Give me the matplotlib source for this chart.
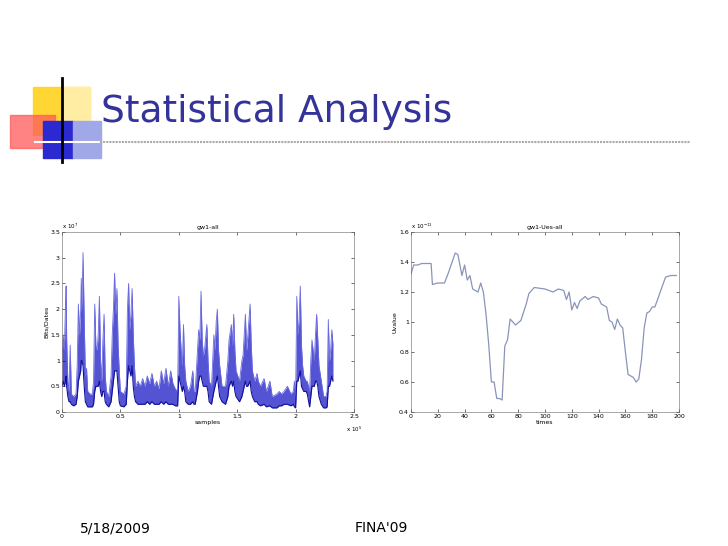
import matplotlib.pyplot as plt
from matplotlib.patches import Rectangle
from matplotlib.lines import Line2D

# left chart: gw1-all, x in 1e5 samples, y in 1e7 bits
gw_x = [0.00, 0.01, 0.02, 0.03, 0.035, 0.04, 0.05, 0.06, 0.07, 0.08, 0.10, 0.12, 0.13, 0.14, 0.15, 0.16,
        0.165, 0.17, 0.18, 0.19, 0.20, 0.21, 0.22, 0.24, 0.26, 0.27, 0.28, 0.29, 0.30, 0.31, 0.32, 0.33,
        0.34, 0.35, 0.36, 0.37, 0.38, 0.40, 0.42, 0.43, 0.44, 0.45, 0.46, 0.47, 0.48, 0.49, 0.50, 0.53,
        0.55, 0.56, 0.57, 0.58, 0.59, 0.60, 0.61, 0.62, 0.63, 0.65, 0.67, 0.69, 0.71, 0.73, 0.75, 0.77,
        0.79, 0.81, 0.83, 0.85, 0.87, 0.89, 0.91, 0.93, 0.95, 0.97, 0.99, 1.00, 1.01, 1.02, 1.03, 1.04,
        1.05, 1.06, 1.08, 1.10, 1.12, 1.13, 1.14, 1.16, 1.17, 1.18, 1.19, 1.20, 1.21, 1.22, 1.24, 1.25,
        1.26, 1.28, 1.30, 1.31, 1.32, 1.33, 1.34, 1.35, 1.37, 1.40, 1.42, 1.43, 1.45, 1.46, 1.47, 1.48,
        1.49, 1.52, 1.54, 1.55, 1.57, 1.58, 1.59, 1.61, 1.62, 1.63, 1.65, 1.67, 1.68, 1.70, 1.73, 1.75,
        1.78, 1.80, 1.84, 1.86, 1.88, 1.90, 1.93, 1.96, 1.98, 1.99, 2.00, 2.01, 2.02, 2.03, 2.04, 2.05,
        2.06, 2.07, 2.09, 2.10, 2.12, 2.13, 2.14, 2.15, 2.16, 2.17, 2.18, 2.19, 2.20, 2.22, 2.24, 2.26,
        2.27, 2.28, 2.29, 2.30, 2.31, 2.32]
gw_hi = [1.0, 1.5, 1.2, 2.1, 2.45, 1.4, 0.6, 0.4, 1.3, 0.35, 0.3, 0.35, 0.9, 2.1, 1.5, 2.0,
         2.6, 2.0, 3.1, 1.8, 0.7, 0.85, 0.4, 0.35, 0.35, 0.6, 2.1, 1.3, 1.2, 1.5, 2.25, 1.0,
         0.6, 1.4, 1.9, 0.7, 0.4, 0.3, 0.7, 1.5, 2.0, 2.7, 1.9, 2.4, 1.3, 0.8, 0.4, 0.35,
         0.5, 2.0, 2.5, 1.6, 1.9, 2.4, 1.5, 0.9, 0.5, 0.6, 0.5, 0.65, 0.5, 0.7, 0.55, 0.75,
         0.5, 0.6, 0.45, 0.8, 0.55, 0.85, 0.5, 0.8, 0.55, 0.45, 0.4, 2.25, 1.6, 1.2, 0.9, 1.7,
         0.9, 0.6, 0.4, 0.5, 0.8, 0.4, 0.4, 1.2, 1.6, 1.4, 2.35, 1.4, 1.1, 1.2, 1.7, 1.0,
         0.6, 0.5, 1.5, 1.2, 1.75, 2.0, 1.2, 0.9, 0.5, 0.5, 1.0, 1.4, 1.7, 1.3, 1.9, 1.2,
         0.8, 0.6, 1.0, 1.1, 1.9, 1.2, 1.45, 2.1, 1.3, 0.8, 0.6, 0.75, 0.6, 0.5, 0.65, 0.4,
         0.6, 0.3, 0.35, 0.4, 0.35, 0.4, 0.5, 0.35, 0.4, 0.6, 0.3, 2.25, 1.5, 1.8, 2.45, 1.3,
         0.9, 0.7, 0.6, 0.6, 0.4, 1.0, 1.4, 1.2, 1.0, 1.5, 1.9, 1.4, 0.9, 0.6, 0.3, 0.3,
         0.4, 1.8, 1.0, 1.2, 1.6, 1.3]
gw_lo = [0.5, 0.6, 0.5, 0.6, 0.7, 0.5, 0.3, 0.2, 0.2, 0.15, 0.12, 0.15, 0.3, 0.6, 0.7, 0.8,
         1.0, 1.0, 0.9, 0.5, 0.2, 0.15, 0.1, 0.1, 0.1, 0.15, 0.4, 0.5, 0.5, 0.5, 0.6, 0.4,
         0.3, 0.4, 0.4, 0.2, 0.15, 0.1, 0.2, 0.4, 0.6, 0.8, 0.8, 0.8, 0.5, 0.2, 0.12, 0.1,
         0.15, 0.6, 0.9, 0.8, 0.7, 0.9, 0.5, 0.3, 0.2, 0.15, 0.15, 0.15, 0.15, 0.2, 0.15, 0.2,
         0.15, 0.15, 0.15, 0.2, 0.15, 0.2, 0.15, 0.15, 0.15, 0.12, 0.12, 0.7, 0.6, 0.5, 0.4, 0.5,
         0.4, 0.2, 0.15, 0.15, 0.2, 0.15, 0.15, 0.4, 0.6, 0.7, 0.7, 0.6, 0.5, 0.5, 0.5, 0.4,
         0.2, 0.15, 0.4, 0.5, 0.6, 0.7, 0.5, 0.3, 0.2, 0.15, 0.3, 0.5, 0.6, 0.5, 0.6, 0.4,
         0.3, 0.2, 0.3, 0.4, 0.6, 0.5, 0.5, 0.6, 0.4, 0.3, 0.2, 0.2, 0.15, 0.12, 0.15, 0.1,
         0.12, 0.08, 0.08, 0.12, 0.12, 0.15, 0.15, 0.12, 0.15, 0.1, 0.08, 0.6, 0.6, 0.7, 0.8, 0.5,
         0.45, 0.4, 0.4, 0.35, 0.1, 0.3, 0.5, 0.5, 0.5, 0.6, 0.6, 0.5, 0.3, 0.15, 0.08, 0.08,
         0.1, 0.5, 0.5, 0.6, 0.7, 0.6]

# right chart: gw1-Ues-all
ues_t = [0, 2, 5, 8, 15, 16, 20, 25, 28, 33, 35, 38, 40, 42, 44, 46, 50, 52, 54, 56, 58, 60, 62, 64,
         66, 68, 70, 72, 74, 78, 82, 86, 88, 92, 100, 106, 110, 114, 116, 118, 120, 122, 124, 126,
         130, 132, 136, 140, 142, 146, 148, 150, 152, 154, 156, 158, 160, 162, 164, 166, 168, 170,
         172, 174, 176, 178, 180, 182, 184, 188, 190, 194, 198]
ues_v = [1.32, 1.38, 1.38, 1.39, 1.39, 1.25, 1.26, 1.26, 1.33, 1.46, 1.45, 1.31, 1.38, 1.28, 1.31, 1.22,
         1.20, 1.26, 1.20, 1.05, 0.85, 0.60, 0.60, 0.49, 0.49, 0.48, 0.84, 0.88, 1.02, 0.98, 1.01, 1.12,
         1.19, 1.23, 1.22, 1.20, 1.22, 1.21, 1.15, 1.20, 1.08, 1.13, 1.09, 1.14, 1.17, 1.15, 1.17, 1.16,
         1.12, 1.10, 1.01, 1.00, 0.95, 1.02, 0.98, 0.96, 0.80, 0.65, 0.64, 0.63, 0.60, 0.62, 0.75, 0.96,
         1.06, 1.07, 1.10, 1.10, 1.15, 1.25, 1.30, 1.31, 1.31]

fig = plt.figure(figsize=(7.28, 5.46), dpi=100)
W, H = 728, 546


def px_axes(x0, y0, x1, y1):
    return fig.add_axes([x0 / W, 1 - y1 / H, (x1 - x0) / W, (y1 - y0) / H])


# slide decoration
deco = fig.add_axes([0, 0, 1, 1])
deco.set_xlim(0, W)
deco.set_ylim(H, 0)
deco.axis('off')
deco.add_patch(Rectangle((33, 87), 57, 48, color='#ffd21e', alpha=0.9))
deco.add_patch(Rectangle((62, 87), 28, 48, color='#fff0b0', alpha=0.9))
deco.add_patch(Rectangle((10, 115), 45, 33, color='#ff5a5a', alpha=0.75))
deco.add_patch(Rectangle((43, 121), 30, 37, color='#2a2ad0'))
deco.add_patch(Rectangle((73, 121), 28, 37, color='#a0a8e8'))
deco.add_line(Line2D([35, 100], [142, 142], color='white', lw=1.5))
deco.add_line(Line2D([100, 690], [142, 142], color='#aaaaaa', lw=1.5, ls=(0, (1, 0.5))))
deco.add_line(Line2D([62, 62], [78, 162], color='black', lw=2))
deco.text(101, 112, 'Statistical Analysis', fontsize=27, color='#333399', va='center',
          family='DejaVu Sans')
deco.text(80, 528, '5/18/2009', fontsize=10, va='center')
deco.text(355, 528, "FINA'09", fontsize=10, va='center')

small = 4.5

ax1 = px_axes(62, 232, 354, 412)
ax1.fill_between(gw_x, gw_lo, gw_hi, color='#2828c8', alpha=0.8, lw=0)
ax1.plot(gw_x, gw_hi, color='#6a6ae0', lw=0.6)
ax1.plot(gw_x, gw_lo, color='#10109a', lw=0.8)
ax1.set_xlim(0, 2.5)
ax1.set_ylim(0, 3.5)
ax1.set_xticks([0, 0.5, 1, 1.5, 2, 2.5])
ax1.set_xticklabels(['0', '0.5', '1', '1.5', '2', '2.5'])
ax1.set_yticks([0, 0.5, 1, 1.5, 2, 2.5, 3, 3.5])
ax1.set_yticklabels(['0', '0.5', '1', '1.5', '2', '2.5', '3', '3.5'])
ax1.set_title('gw1-all', fontsize=small, pad=2)
ax1.set_xlabel('samples', fontsize=small, labelpad=1)
ax1.set_ylabel('Bits/Dates', fontsize=small, labelpad=1)
ax1.text(0, 1.005, 'x 10$^{7}$', transform=ax1.transAxes, fontsize=small - 0.5, va='bottom')
ax1.text(1.0, -0.07, 'x 10$^{5}$', transform=ax1.transAxes, fontsize=small - 0.5, va='top', ha='center')

ax2 = px_axes(411, 232, 679, 412)
ax2.plot(ues_t, ues_v, color='#8a94b8', lw=0.9)
ax2.set_xlim(0, 200)
ax2.set_ylim(0.4, 1.6)
ax2.set_xticks(range(0, 201, 20))
ax2.set_yticks([0.4, 0.6, 0.8, 1.0, 1.2, 1.4, 1.6])
ax2.set_yticklabels(['0.4', '0.6', '0.8', '1', '1.2', '1.4', '1.6'])
ax2.set_title('gw1-Ues-all', fontsize=small, pad=2)
ax2.set_xlabel('times', fontsize=small, labelpad=1)
ax2.set_ylabel('Uvalue', fontsize=small, labelpad=1)
ax2.text(0, 1.005, 'x 10$^{-11}$', transform=ax2.transAxes, fontsize=small - 0.5, va='bottom')

for ax in (ax1, ax2):
    ax.tick_params(labelsize=small, length=2, width=0.4, direction='in', top=True, right=True, pad=1.5)
    for s in ax.spines.values():
        s.set_linewidth(0.4)
        s.set_color('#666666')

fig.savefig('out.png', dpi=100)
